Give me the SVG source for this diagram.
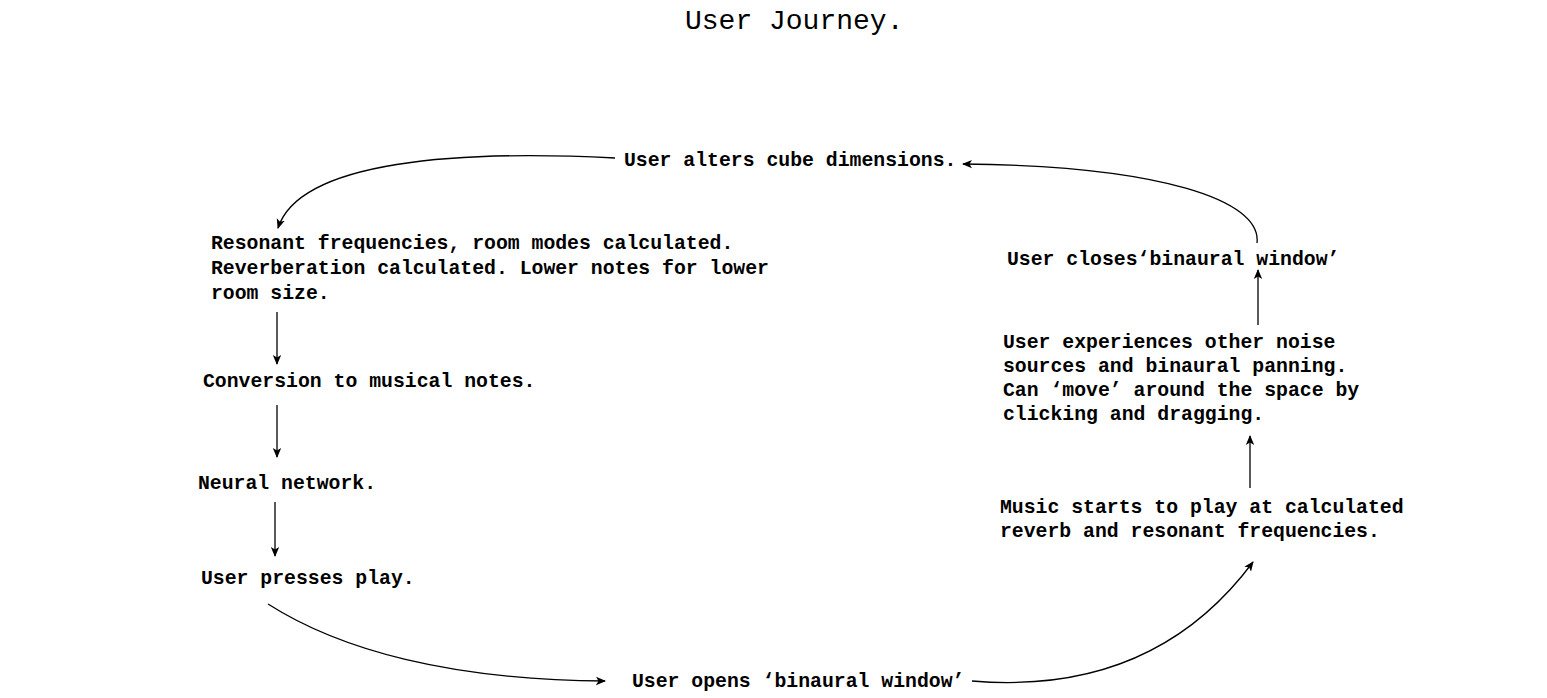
<svg xmlns="http://www.w3.org/2000/svg" width="1547" height="698" viewBox="0 0 1547 698">
<defs>
<marker id="ah" viewBox="0 0 10 10" refX="9" refY="5" markerWidth="10" markerHeight="10" markerUnits="userSpaceOnUse" orient="auto">
<path d="M0,0.8 L10,5 L0,9.2 L2.5,5 Z" fill="#000"/>
</marker>
<style>
.t{font-family:"Liberation Mono","Courier New",monospace;font-size:19.8px;font-weight:bold;fill:#000}
.title{font-family:"Liberation Mono","Courier New",monospace;font-size:28px;fill:#000}
.c{fill:none;stroke:#000;stroke-width:1.3;marker-end:url(#ah)}
</style>
</defs>
<rect width="1547" height="698" fill="#fff"/>
<text class="title" x="685" y="29">User Journey.</text>
<g id="n-alters"><text class="t" x="624" y="166">User alters cube dimensions.</text></g>
<g id="n-resonant"><text class="t" x="211" y="249">Resonant frequencies, room modes calculated.</text><text class="t" x="211" y="274">Reverberation calculated. Lower notes for lower</text><text class="t" x="211" y="299">room size.</text></g>
<g id="n-conversion"><text class="t" x="203" y="387">Conversion to musical notes.</text></g>
<g id="n-neural"><text class="t" x="198" y="489">Neural network.</text></g>
<g id="n-play"><text class="t" x="201" y="584">User presses play.</text></g>
<g id="n-opens"><text class="t" x="632" y="687">User opens ‘binaural window’</text></g>
<g id="n-music"><text class="t" x="1000" y="513">Music starts to play at calculated</text><text class="t" x="1000" y="537">reverb and resonant frequencies.</text></g>
<g id="n-experiences"><text class="t" x="1003" y="348">User experiences other noise</text><text class="t" x="1003" y="372">sources and binaural panning.</text><text class="t" x="1003" y="396">Can ‘move’ around the space by</text><text class="t" x="1003" y="420">clicking and dragging.</text></g>
<g id="n-closes"><text class="t" x="1007" y="265">User closes‘binaural window’</text></g>
<g id="connectors">
<path class="c" d="M615,158 C460,150 300,160 278,228"/>
<path class="c" d="M277,312 L277,364"/>
<path class="c" d="M277,405 L277,457"/>
<path class="c" d="M275,502 L275,556"/>
<path class="c" d="M268,604 C340,650 450,680 605,681"/>
<path class="c" d="M972,681 C1080,690 1180,660 1253,562"/>
<path class="c" d="M1250,488 L1250,436"/>
<path class="c" d="M1258,325 L1258,270"/>
<path class="c" d="M1257,243 C1262,200 1160,166 963,164"/>
</g>
</svg>
